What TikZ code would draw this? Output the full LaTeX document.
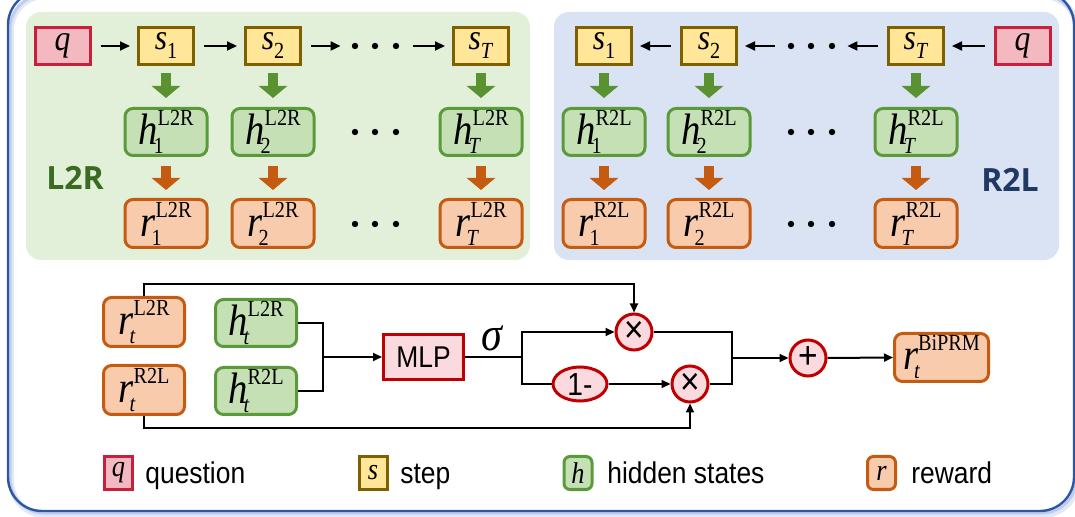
\documentclass[tikz,border=0pt]{standalone}
\usepackage{fontspec}
\setmainfont[FakeStretch=0.88]{Liberation Serif}
\setsansfont[FakeStretch=0.88]{Liberation Sans}
\newfontfamily\lblfont{Open Sans}
\usetikzlibrary{arrows.meta,shapes.geometric}
\definecolor{qfill}{HTML}{F4B8C1}
\definecolor{qdraw}{HTML}{C8203C}
\definecolor{sfill}{HTML}{FFE699}
\definecolor{sdraw}{HTML}{7F6000}
\definecolor{hfill}{HTML}{C5E0B4}
\definecolor{hdraw}{HTML}{5B9A3B}
\definecolor{rfill}{HTML}{F8CBAD}
\definecolor{rdraw}{HTML}{C55A11}
\definecolor{gpanel}{HTML}{E2F0D9}
\definecolor{bpanel}{HTML}{DAE3F3}
\definecolor{garrc}{HTML}{5A9232}
\definecolor{oarrc}{HTML}{C55A11}
\definecolor{opfill}{HTML}{FADADF}
\definecolor{opdraw}{HTML}{C00000}
\definecolor{framec}{HTML}{2F55A5}
\definecolor{shadowc}{HTML}{A9BCE6}
\definecolor{ltwor}{HTML}{3A6B22}
\definecolor{rtwol}{HTML}{203864}
\newcommand\hv[3]{{\fontsize{22}{22}\selectfont\itshape #1}\rlap{\kern-2pt\raisebox{-4.5pt}{\fontsize{11.5}{11.5}\selectfont #2}}\raisebox{9.5pt}{\fontsize{11.5}{11.5}\selectfont #3}}
\newcommand\sv[2]{{\fontsize{18}{18}\selectfont\itshape #1}\raisebox{-4.5pt}{\fontsize{11.5}{11.5}\selectfont #2}}
\newcommand\qv{{\fontsize{18}{18}\selectfont\itshape q}}
\newcommand\lgl[1]{{\fontsize{15}{15}\selectfont\itshape #1}}
\begin{document}
\begin{tikzpicture}[x=0.5pt,y=-0.5pt,
  box/.style={line width=1.5pt, inner sep=0pt, align=center},
  qnode/.style={box, draw=qdraw, fill=qfill, minimum width=27.5pt, minimum height=18.5pt},
  snode/.style={box, draw=sdraw, fill=sfill, minimum width=27.5pt, minimum height=18.5pt},
  hnode/.style={box, draw=hdraw, fill=hfill, rounded corners=4pt, minimum width=41pt, minimum height=23.5pt},
  rnode/.style={box, draw=rdraw, fill=rfill, rounded corners=4pt, minimum width=41pt, minimum height=24pt},
  opnode/.style={box, draw=opdraw, fill=opfill, font=\sffamily\fontsize{14}{14}\selectfont},
  circop/.style={opnode, circle, minimum size=18pt, font=\sffamily\fontsize{19}{19}\selectfont},
  dotsn/.style={inner sep=0pt, minimum width=28pt, minimum height=5pt},
  arr/.style={line width=1pt, -{Triangle[length=5pt,width=4.5pt]}, shorten <=4.5pt, shorten >=3.5pt},
  line/.style={line width=1pt},
  barr/.style={line width=1pt, -{Triangle[length=4.5pt,width=4pt]}},
  garr/.style={draw=garrc, line width=5pt, -{Triangle[length=6pt,width=14pt]}, shorten <=3.5pt, shorten >=4.5pt},
  oarr/.style={draw=oarrc, line width=5pt, -{Triangle[length=6pt,width=14pt]}, shorten <=4.5pt, shorten >=4pt},
  legtext/.style={inner sep=0pt, anchor=base west, font=\sffamily\fontsize{15}{15}\selectfont}
]
\useasboundingbox (0,0) rectangle (1075,517);
% outer frame
\draw[shadowc, line width=3pt, opacity=0.35, rounded corners=17pt] (11,-4) rectangle (1077,515);
\draw[shadowc, line width=1.5pt, opacity=0.6, rounded corners=17pt] (10,-5) rectangle (1076,513);
\draw[framec, line width=1.2pt, rounded corners=17pt] (8,-9) rectangle (1074,511);
% panels
\fill[gpanel, rounded corners=7.5pt] (26,12) rectangle (530,260);
\fill[bpanel, rounded corners=7.5pt] (554,12) rectangle (1059,260);

% ---- L2R ----
\node[qnode] (qL) at (62.5,46) {\qv};
\node[snode] (s1L) at (166,46) {\sv{s}{1}};
\node[snode] (s2L) at (273,46) {\sv{s}{2}};
\node[snode] (sTL) at (481,46) {\sv{s}{\textit{T}}};
\node[dotsn] (dL) at (376,46) {};
\node[hnode] (h1L) at (166,132) {\hv{h}{1}{L2R}};
\node[hnode] (h2L) at (273,132) {\hv{h}{2}{L2R}};
\node[hnode] (hTL) at (481,132) {\hv{h}{\textit{T}}{L2R}};
\node[rnode] (r1L) at (166,223.5) {\hv{r}{1}{L2R}};
\node[rnode] (r2L) at (273,223.5) {\hv{r}{2}{L2R}};
\node[rnode] (rTL) at (481,223.5) {\hv{r}{\textit{T}}{L2R}};
\foreach \y in {46,132,224} \foreach \x in {355,375,396} \fill (\x,\y) circle[radius=1.6pt];
\draw[arr] (qL) -- (s1L);
\draw[arr] (s1L) -- (s2L);
\draw[arr] (s2L) -- (dL);
\draw[arr] (dL) -- (sTL);
\foreach \c in {1,2,T} {
  \draw[garr] (s\c L.south) -- (h\c L.north);
  \draw[oarr] (h\c L.south) -- (r\c L.north);
}
\node[text=ltwor, font=\lblfont\bfseries\fontsize{16}{16}\selectfont] (lblL) at (75,178) {L2R};

% ---- R2L ----
\node[qnode] (qR) at (1022.5,46) {\qv};
\node[snode] (s1R) at (604,46) {\sv{s}{1}};
\node[snode] (s2R) at (709,46) {\sv{s}{2}};
\node[snode] (sTR) at (916,46) {\sv{s}{\textit{T}}};
\node[dotsn] (dR) at (812,46) {};
\node[hnode] (h1R) at (604,132) {\hv{h}{1}{R2L}};
\node[hnode] (h2R) at (709,132) {\hv{h}{2}{R2L}};
\node[hnode] (hTR) at (916,132) {\hv{h}{\textit{T}}{R2L}};
\node[rnode] (r1R) at (604,223.5) {\hv{r}{1}{R2L}};
\node[rnode] (r2R) at (709,223.5) {\hv{r}{2}{R2L}};
\node[rnode] (rTR) at (916,223.5) {\hv{r}{\textit{T}}{R2L}};
\foreach \y in {46,132,224} \foreach \x in {791,811,832} \fill (\x,\y) circle[radius=1.6pt];
\draw[arr] (qR) -- (sTR);
\draw[arr] (sTR) -- (dR);
\draw[arr] (dR) -- (s2R);
\draw[arr] (s2R) -- (s1R);
\foreach \c in {1,2,T} {
  \draw[garr] (s\c R.south) -- (h\c R.north);
  \draw[oarr] (h\c R.south) -- (r\c R.north);
}
\node[text=rtwol, font=\lblfont\bfseries\fontsize{16}{16}\selectfont] (lblR) at (1010,180) {R2L};

% ---- fusion ----
\node[rnode, minimum width=40.5pt, minimum height=24.5pt] (rtL) at (144,322) {\hv{r}{\textit{t}}{L2R}};
\node[rnode, minimum width=40.5pt, minimum height=24.5pt] (rtR) at (144,390) {\hv{r}{\textit{t}}{R2L}};
\node[hnode, minimum width=40.5pt] (htL) at (256,323) {\hv{h}{\textit{t}}{L2R}};
\node[hnode, minimum width=40.5pt] (htR) at (256,391) {\hv{h}{\textit{t}}{R2L}};
\node[opnode, minimum width=40pt, minimum height=22.5pt, font=\sffamily\fontsize{15}{15}\selectfont] (mlp) at (423.5,357) {MLP};
\node[inner sep=0pt] (sig) at (492,338) {\fontsize{24}{24}\selectfont\itshape σ};
\node[circop] (mulA) at (634,332) {×};
\node[opnode, ellipse, minimum width=27pt, minimum height=17pt, font=\sffamily\fontsize{16}{16}\selectfont] (om) at (580,384) {1-};
\node[circop] (mulB) at (690,384) {×};
\node[circop] (plusn) at (808,358) {+};
\node[rnode, minimum width=47pt, minimum height=24pt] (bip) at (941.5,357.5) {\hv{r}{\textit{t}}{BiPRM}};
\coordinate (j1) at (323,357);
\coordinate (j2) at (522,357);
\coordinate (j3) at (732,358);
\coordinate (ctop) at (634,284);
\coordinate (cbot) at (690,428);
\draw[line] (htL.east) -| (j1) |- (htR.east);
\draw[barr] (j1) -- (mlp.west);
\draw[line] (mlp.east) -- (j2);
\draw[barr] (j2) |- (mulA.west);
\draw[line] (j2) |- (om.west);
\draw[barr] (om.east) -- (mulB.west);
\draw[barr] (rtL.north) |- (ctop) -- (mulA.north);
\draw[barr] (rtR.south) |- (cbot) -- (mulB.south);
\draw[line] (mulA.east) -| (j3) |- (mulB.east);
\draw[barr] (j3) -- (plusn.west);
\draw[barr] (plusn.east) -- (bip.west);

% ---- legend ----
\node[qnode, minimum width=14pt, minimum height=16.5pt] (lq) at (118.5,473) {\lgl{q}};
\node[legtext] (lqt) at (145,484) {question};
\node[snode, minimum width=14pt, minimum height=16.5pt] (ls) at (373,473) {\lgl{s}};
\node[legtext] (lst) at (400,484) {step};
\node[hnode, rounded corners=3pt, minimum width=14pt, minimum height=16.5pt] (lh) at (578,473) {\lgl{h}};
\node[legtext] (lht) at (607,484) {hidden states};
\node[rnode, rounded corners=3pt, minimum width=14pt, minimum height=16.5pt] (lr) at (881.5,473) {\lgl{r}};
\node[legtext] (lrt) at (911,484) {reward};
\end{tikzpicture}
\end{document}
